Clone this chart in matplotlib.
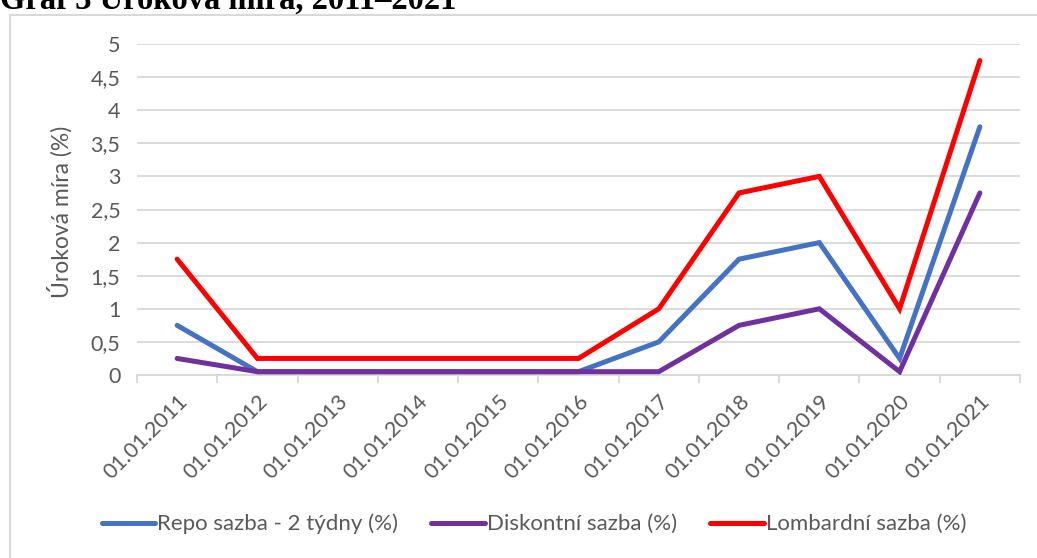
import numpy as np
import matplotlib
matplotlib.use("Agg")
import matplotlib.pyplot as plt
from matplotlib.lines import Line2D

# Data
dates = ["01.01.2011", "01.01.2012", "01.01.2013", "01.01.2014", "01.01.2015", "01.01.2016",
         "01.01.2017", "01.01.2018", "01.01.2019", "01.01.2020", "01.01.2021"]
repo = [0.75, 0.05, 0.05, 0.05, 0.05, 0.05, 0.5, 1.75, 2.0, 0.25, 3.75]
diskont = [0.25, 0.05, 0.05, 0.05, 0.05, 0.05, 0.05, 0.75, 1.0, 0.05, 2.75]
lombard = [1.75, 0.25, 0.25, 0.25, 0.25, 0.25, 1.0, 2.75, 3.0, 1.0, 4.75]
yticks = [0, 0.5, 1, 1.5, 2, 2.5, 3, 3.5, 4, 4.5, 5]
ytick_labels = ["0", "0,5", "1", "1,5", "2", "2,5", "3", "3,5", "4", "4,5", "5"]

series_names = ["Repo sazba - 2 týdny (%)", "Diskontní sazba (%)", "Lombardní sazba (%)"]
colors = ["#4472C4", "#7030A0", "#FF0000"]

plt.rcParams['font.family'] = ['Lato', 'DejaVu Sans']
text_col = "#595959"
grid_col = "#d9d9d9"

W, H = 1037, 558
fig = plt.figure(figsize=(W / 100, H / 100), dpi=100)
ax = fig.add_axes([137 / W, 1 - 375 / H, (1020 - 137) / W, (375 - 44) / H])

x = np.arange(len(dates))
for vals, name, c in zip([repo, diskont, lombard], series_names, colors):
    ax.plot(x, vals, color=c, lw=3.6, label=name, solid_joinstyle='miter',
            solid_capstyle='round', zorder=3)

ax.set_xlim(-0.5, len(dates) - 0.5)
ax.set_ylim(0, 5)
ax.set_yticks(yticks)
ax.set_yticklabels(ytick_labels)
ax.yaxis.grid(True, color=grid_col, lw=1.3)
ax.set_axisbelow(True)
ax.tick_params(axis='y', length=0, pad=12, labelsize=15.5, labelcolor=text_col)

ax.set_xticks(x)
ax.set_xticklabels(dates, rotation=45, ha='right', rotation_mode='anchor')
ax.set_xticks(np.arange(len(dates) + 1) - 0.5, minor=True)
ax.tick_params(axis='x', which='major', length=0, pad=12, labelsize=15.5, labelcolor=text_col)
ax.tick_params(axis='x', which='minor', length=6, width=1.3, color=grid_col)

for s in ['left', 'right', 'top']:
    ax.spines[s].set_visible(False)
ax.spines['bottom'].set_color(grid_col)
ax.spines['bottom'].set_linewidth(1.3)

fig.text(60 / W, 1 - 212 / H, "Úroková míra (%)", rotation=90, va='center', ha='center',
         fontsize=16.5, color=text_col)

handles = [Line2D([], [], color=c, lw=3.6, solid_capstyle='round') for c in colors]
fig.legend(handles, series_names, loc='center', bbox_to_anchor=(534 / W, 1 - 524 / H), ncol=3,
           frameon=False, fontsize=16, handlelength=2.4, handletextpad=0.1,
           columnspacing=1.5, labelcolor=text_col)

# chart frame
fig.add_artist(Line2D([10 / W, 1], [1 - 15 / H, 1 - 15 / H], color=grid_col, lw=1.5))
fig.add_artist(Line2D([10 / W, 10 / W], [0, 1 - 15 / H], color=grid_col, lw=1.5))

# title, cut at top as in the source
fig.text(0, 1 - 9 / H, "Graf 3 Úroková míra, 2011–2021", ha='left', va='baseline',
         fontsize=23.5, fontweight='bold', family='Liberation Serif', color='black')

fig.savefig("out.png", dpi=100)
